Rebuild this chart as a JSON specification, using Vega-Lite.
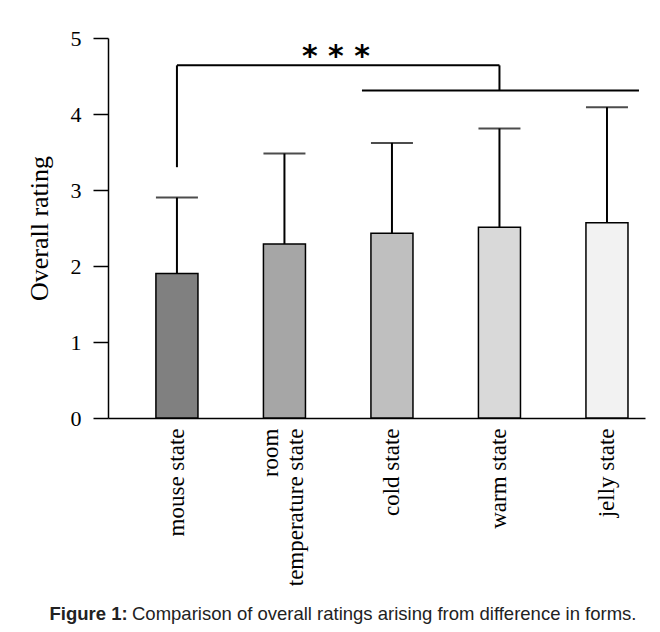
{
  "$schema": "https://vega.github.io/schema/vega-lite/v6.json",
  "width": 537,
  "height": 380,
  "autosize": {"type": "none"},
  "padding": {"left": 108, "top": 38, "right": 15, "bottom": 214},
  "background": "white",
  "config": {"view": {"stroke": null}, "font": "Liberation Serif"},
  "title": {
    "text": "Comparison of overall ratings arising from difference in forms.",
    "orient": "top", "anchor": "start", "frame": "group", "offset": 0,
    "dx": 24, "dy": 611, "baseline": "alphabetic",
    "font": "Liberation Sans", "fontSize": 18.5, "fontWeight": "normal", "color": "#222"
  },
  "layer": [
    {
      "data": {"values": [
        {"form": "mouse state", "mean": 1.9, "upper": 2.9},
        {"form": "room temperature state", "mean": 2.29, "upper": 3.48},
        {"form": "cold state", "mean": 2.43, "upper": 3.62},
        {"form": "warm state", "mean": 2.51, "upper": 3.81},
        {"form": "jelly state", "mean": 2.57, "upper": 4.09}
      ]},
      "layer": [
        {
          "mark": {"type": "rule", "color": "black", "strokeWidth": 2},
          "encoding": {
            "x": {"field": "form", "type": "nominal"},
            "y": {"field": "mean", "type": "quantitative"},
            "y2": {"field": "upper"}
          }
        },
        {
          "mark": {"type": "tick", "color": "black", "thickness": 2, "size": 42},
          "encoding": {
            "x": {"field": "form", "type": "nominal"},
            "y": {"field": "upper", "type": "quantitative"}
          }
        },
        {
          "mark": {"type": "bar", "stroke": "black", "strokeWidth": 1.5},
          "encoding": {
            "x": {
              "field": "form", "type": "nominal",
              "scale": {
                "domain": ["mouse state", "room temperature state", "cold state", "warm state", "jelly state"],
                "paddingInner": 0.609, "paddingOuter": 0.302, "align": 0.738
              },
              "axis": {
                "title": "Figure 1:", "titleFont": "Liberation Sans", "titleFontSize": 18.5,
                "titleFontWeight": "bold", "titleColor": "#222", "titleX": -59, "titleY": 201,
                "titleAlign": "left", "titleBaseline": "alphabetic", "titleAngle": 0,
                "labelAngle": -90, "labelAlign": "right", "labelBaseline": "middle",
                "labelFont": "Liberation Serif", "labelFontSize": 23, "labelColor": "black",
                "labelPadding": 10, "labelLimit": 300, "labelLineHeight": 25,
                "labelOffset": {"condition": {"test": "datum.value == 'room temperature state'", "value": -13}, "value": 0},
                "labelExpr": "datum.label == 'room temperature state' ? ['room', 'temperature state'] : datum.label",
                "ticks": false, "tickSize": 0, "domainColor": "black", "domainWidth": 1.5
              }
            },
            "y": {
              "field": "mean", "type": "quantitative",
              "scale": {"domain": [0, 5], "nice": false},
              "axis": {
                "title": "Overall rating", "titleFont": "Liberation Serif", "titleFontSize": 26,
                "titleFontWeight": "normal", "titleColor": "black", "titlePadding": 18,
                "labelFont": "Liberation Serif", "labelFontSize": 22, "labelColor": "black",
                "labelPadding": 12, "tickSize": 15, "tickColor": "black", "tickWidth": 1.5,
                "domainColor": "black", "domainWidth": 1.5, "grid": false, "format": "d",
                "values": [0, 1, 2, 3, 4, 5]
              }
            },
            "color": {
              "field": "form", "type": "nominal", "legend": null,
              "scale": {
                "domain": ["mouse state", "room temperature state", "cold state", "warm state", "jelly state"],
                "range": ["#808080", "#a6a6a6", "#bfbfbf", "#d9d9d9", "#f2f2f2"]
              }
            }
          }
        }
      ]
    },
    {
      "data": {"values": [
        {"form": "mouse state", "form2": "mouse state", "y1": 3.3, "y2": 4.64},
        {"form": "mouse state", "form2": "warm state", "y1": 4.64, "y2": 4.64},
        {"form": "warm state", "form2": "warm state", "y1": 4.31, "y2": 4.64}
      ]},
      "mark": {"type": "rule", "color": "black", "strokeWidth": 2},
      "encoding": {
        "x": {"field": "form", "type": "nominal"},
        "x2": {"field": "form2"},
        "y": {"field": "y1", "type": "quantitative"},
        "y2": {"field": "y2"}
      }
    },
    {
      "data": {"values": [
        {"form": "cold state", "form2": "jelly state", "y1": 4.31}
      ]},
      "mark": {"type": "rule", "color": "black", "strokeWidth": 2, "xOffset": -30, "x2Offset": 32},
      "encoding": {
        "x": {"field": "form", "type": "nominal"},
        "x2": {"field": "form2"},
        "y": {"field": "y1", "type": "quantitative"}
      }
    },
    {
      "data": {"values": [
        {"form": "cold state", "y1": 4.64, "label": "* * *"}
      ]},
      "mark": {"type": "text", "font": "DejaVu Sans", "fontSize": 30, "fontWeight": "bold", "baseline": "alphabetic", "align": "center", "dx": -56, "dy": 1, "color": "black"},
      "encoding": {
        "x": {"field": "form", "type": "nominal"},
        "y": {"field": "y1", "type": "quantitative"},
        "text": {"field": "label"}
      }
    }
  ]
}
